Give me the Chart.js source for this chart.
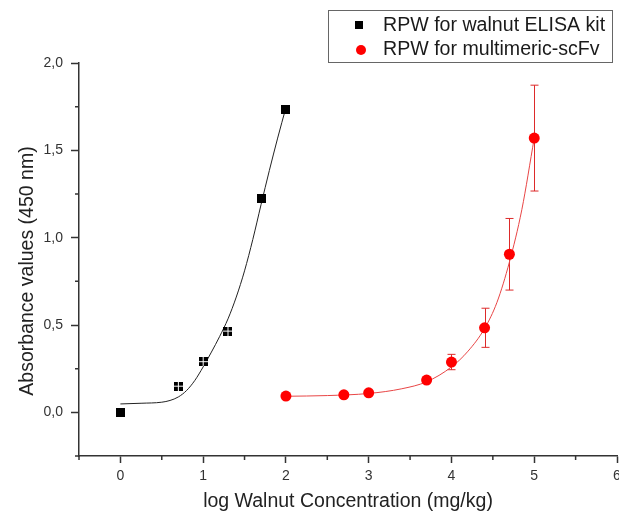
<!DOCTYPE html>
<html><head><meta charset="utf-8">
<script src="https://cdn.jsdelivr.net/npm/chart.js@4.4.1/dist/chart.umd.min.js"></script>
<style>html,body{margin:0;padding:0;background:#fff;overflow:hidden;}#wrap{width:619px;height:518px;}</style>
</head><body><div id="wrap"><canvas id="c" width="619" height="518"></canvas></div>
<script>
// ---- data ----
const kitLabel = 'RPW for walnut ELISA kit';
const scfvLabel = 'RPW for multimeric-scFv';
const xTitle = 'log Walnut Concentration (mg/kg)';
const yTitle = 'Absorbance values (450 nm)';

const kitX = [0, 0.7, 1, 1.3, 1.7, 2];
const kitY = [0.0, 0.15, 0.29, 0.465, 1.225, 1.735];

const scfvX = [2, 2.7, 3, 3.7, 4, 4.4, 4.7, 5];
const scfvY = [0.093, 0.1, 0.112, 0.185, 0.288, 0.484, 0.905, 1.57];
const scfvErr = [0, 0, 0, 0, 0.044, 0.112, 0.205, 0.303];

const kitFitX = [0, 0.25, 0.5, 0.6, 0.7, 0.8, 0.9, 1.0, 1.1, 1.2, 1.3, 1.4, 1.5, 1.6, 1.7, 1.8, 1.9, 2.0];
const kitFitY = [0.048, 0.052, 0.058, 0.068, 0.088, 0.125, 0.183, 0.26, 0.345, 0.435, 0.535, 0.66, 0.81, 0.99, 1.19, 1.385, 1.57, 1.745];

const scfvFitX = [2, 2.5, 3, 3.4, 3.7, 4.0, 4.2, 4.4, 4.55, 4.7, 4.85, 5.0];
const scfvFitY = [0.092, 0.096, 0.108, 0.135, 0.175, 0.26, 0.35, 0.48, 0.63, 0.86, 1.16, 1.57];

const xMin = -0.5, xMax = 6, xStep = 0.5;
const yMin = -0.25, yMax = 2.0, yStep = 0.25;

// ---- helpers ----
const pts = (xs, ys) => xs.map((x, i) => ({x, y: ys[i]}));
function squareImg(crossed) {
  const c = document.createElement('canvas');
  c.width = 9; c.height = 9;
  const g = c.getContext('2d');
  g.fillStyle = '#000'; g.fillRect(0, 0, 9, 9);
  if (crossed) { g.fillStyle = '#fff'; g.fillRect(4, 0, 1, 9); g.fillRect(0, 4, 9, 1); }
  return c;
}
const solidSq = squareImg(false), crossSq = squareImg(true);
const crossedIdx = [1, 2, 3];

const FONT = "'Liberation Sans', Arial, sans-serif";
const AX = '#333';
const isInt = v => Math.abs(v - Math.round(v)) < 1e-6;
const isHalf = v => Math.abs(v * 2 - Math.round(v * 2)) < 1e-6;

const overlay = {
  id: 'overlay',
  beforeDatasetsDraw(chart) {
    const xs = chart.scales.x, ys = chart.scales.y, ctx = chart.ctx;
    ctx.save();
    ctx.strokeStyle = '#dd2a2a'; ctx.lineWidth = 1;
    scfvX.forEach((xv, i) => {
      const e = scfvErr[i]; if (!e) return;
      const px = Math.round(xs.getPixelForValue(xv)) + 0.5;
      const t = ys.getPixelForValue(scfvY[i] + e), b = ys.getPixelForValue(scfvY[i] - e);
      ctx.beginPath();
      ctx.moveTo(px, t); ctx.lineTo(px, b);
      ctx.moveTo(px - 4, t); ctx.lineTo(px + 4, t);
      ctx.moveTo(px - 4, b); ctx.lineTo(px + 4, b);
      ctx.stroke();
    });
    ctx.restore();
  },
  afterDraw(chart) {
    const xs = chart.scales.x, ys = chart.scales.y, ctx = chart.ctx, ca = chart.chartArea;
    ctx.save();
    ctx.strokeStyle = AX; ctx.lineWidth = 1.5;
    ctx.beginPath();
    xs.ticks.forEach(t => { if (!isInt(t.value)) { const p = xs.getPixelForValue(t.value); ctx.moveTo(p, ca.bottom); ctx.lineTo(p, ca.bottom + 4); } });
    ys.ticks.forEach(t => { if (!isHalf(t.value)) { const p = ys.getPixelForValue(t.value); ctx.moveTo(ca.left, p); ctx.lineTo(ca.left - 4, p); } });
    ctx.stroke();
    // y axis title
    ctx.save();
    ctx.fillStyle = '#222';
    ctx.font = '19.5px ' + FONT;
    ctx.textAlign = 'center'; ctx.textBaseline = 'middle';
    ctx.translate(28, 271);
    ctx.rotate(-Math.PI / 2);
    ctx.fillText(yTitle, 0, 0);
    ctx.restore();
    // legend box
    const bx = 328.5, by = 10.5, bw = 284, bh = 52;
    ctx.strokeStyle = '#666'; ctx.lineWidth = 1;
    ctx.strokeRect(bx, by, bw, bh);
    ctx.drawImage(solidSq, 355, 21, 8, 8);
    ctx.fillStyle = '#ff0000';
    ctx.beginPath(); ctx.arc(361, 50, 5, 0, Math.PI * 2); ctx.fill();
    ctx.fillStyle = '#1a1a1a';
    ctx.font = '19.6px ' + FONT;
    ctx.textBaseline = 'middle'; ctx.textAlign = 'left';
    ctx.fillText(chart.data.datasets[0].label, 383, 26);
    ctx.fillText(chart.data.datasets[1].label, 383, 50);
    ctx.restore();
  }
};

new Chart(document.getElementById('c'), {
  type: 'scatter',
  data: {
    datasets: [
      { label: kitLabel, data: pts(kitX, kitY), showLine: false,
        pointStyle: ctx => crossedIdx.includes(ctx.dataIndex) ? crossSq : solidSq,
        backgroundColor: '#000', borderColor: '#000', order: 1 },
      { label: scfvLabel, data: pts(scfvX, scfvY), showLine: false,
        pointStyle: 'circle', pointRadius: 5.5, backgroundColor: '#ff0000', borderWidth: 0, order: 1 },
      { label: 'fit kit', data: pts(kitFitX, kitFitY), showLine: true, pointRadius: 0,
        borderColor: '#222', borderWidth: 1, cubicInterpolationMode: 'monotone', order: 2 },
      { label: 'fit scfv', data: pts(scfvFitX, scfvFitY), showLine: true, pointRadius: 0,
        borderColor: '#e84545', borderWidth: 1, cubicInterpolationMode: 'monotone', order: 2 }
    ]
  },
  options: {
    responsive: false, animation: false, devicePixelRatio: 1,
    layout: { autoPadding: false, padding: { top: 63, right: 2, bottom: 0, left: 0 } },
    plugins: { legend: { display: false }, tooltip: { enabled: false } },
    scales: {
      x: {
        type: 'linear', min: xMin, max: xMax,
        afterFit(s) { s.height = 62; s.paddingLeft = 0; s.paddingRight = 0; },
        ticks: { stepSize: xStep, autoSkip: false, maxRotation: 0, padding: 5, color: AX,
          font: { family: FONT, size: 14 },
          callback: v => isInt(v) && v >= 0 ? String(Math.round(v)) : '' },
        grid: { drawOnChartArea: false, drawTicks: true, tickLength: 7, tickWidth: 1.5,
          tickColor: c => (c.tick && isInt(c.tick.value)) ? AX : 'rgba(0,0,0,0)' },
        border: { display: true, color: AX, width: 1.5 },
        title: { display: true, text: xTitle, color: '#222', font: { family: FONT, size: 19.5 }, padding: { top: 0, bottom: 5 } }
      },
      y: {
        type: 'linear', min: yMin, max: yMax,
        afterFit(s) { s.width = 79; s.paddingTop = 0; s.paddingBottom = 0; },
        ticks: { stepSize: yStep, autoSkip: false, padding: 8, color: AX,
          font: { family: FONT, size: 14 },
          callback: v => (isHalf(v) && v >= 0) ? v.toFixed(1).replace('.', ',') : '' },
        grid: { drawOnChartArea: false, drawTicks: true, tickLength: 8, tickWidth: 1.5,
          tickColor: c => (c.tick && isHalf(c.tick.value) && c.tick.value >= 0) ? AX : 'rgba(0,0,0,0)' },
        border: { display: true, color: AX, width: 1.5 },
        title: { display: false, text: yTitle }
      }
    }
  },
  plugins: [overlay]
});
</script></body></html>
